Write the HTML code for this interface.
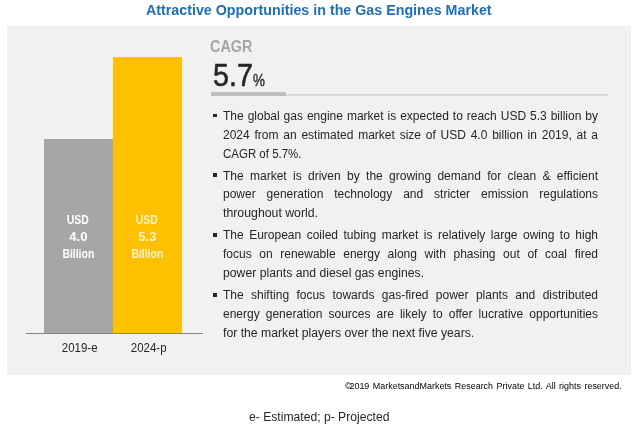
<!DOCTYPE html>
<html>
<head>
<meta charset="utf-8">
<title>Attractive Opportunities in the Gas Engines Market</title>
<style>
  html, body { margin: 0; padding: 0; background: #ffffff; }
  body { width: 639px; height: 430px; position: relative; overflow: hidden;
         font-family: "Liberation Sans", sans-serif; color: #262626; will-change: transform; }
  .abs { position: absolute; white-space: nowrap; transform-origin: 0 0; }
  #title { left: 145.8px; top: 1.2px; font-size: 15px; line-height: 18px; font-weight: bold; color: #1f6fb3; transform: scaleX(0.951); }
  #panel { position: absolute; left: 7px; top: 26.3px; width: 623.6px; height: 348.4px; background: #f1f1f1; }
  #bar1 { position: absolute; left: 44px; top: 139px; width: 69px; height: 194px; background: #a6a6a6; }
  #bar2 { position: absolute; left: 113px; top: 57px; width: 69px; height: 276px; background: #ffc000; }
  #axis { position: absolute; left: 26px; top: 332.9px; width: 177px; height: 1.1px; background: #858585; }
  .blab { position: absolute; width: 69px; text-align: center; font-weight: bold; font-size: 12px; line-height: 17px; color: #ffffff; }
  .blab span { display: inline-block; transform: scaleX(0.87); transform-origin: 50% 50%; }
  #bl1 { left: 44px; top: 212.4px; }
  #bl2 { left: 113px; top: 212.4px; color: #fff2cc; }
  .xlab { position: absolute; width: 69px; text-align: center; font-size: 12px; line-height: 14px; color: #262626; top: 340.7px; }
  .xlab span { display: inline-block; transform: scaleX(0.955); transform-origin: 50% 50%; }
  #cagr { left: 210.4px; top: 36px; font-size: 16.5px; line-height: 20px; font-weight: bold; color: #a6a6a6; transform: scaleX(0.872); }
  #num { left: 212.6px; top: 58.2px; font-size: 30.7px; line-height: 36px; color: #262626; transform: scaleX(0.935); -webkit-text-stroke: 0.55px #262626; }
  #pct { left: 252.7px; top: 70.5px; font-size: 16.8px; line-height: 20px; color: #262626; transform: scaleX(0.8); -webkit-text-stroke: 0.35px #262626; }
  #thick { position: absolute; left: 211px; top: 92.3px; width: 75.4px; height: 3.6px; background: #bfbfbf; }
  #thin { position: absolute; left: 286px; top: 94px; width: 322px; height: 2px; background: #d9d9d9; }
  #bullets { position: absolute; left: 223px; top: 106.8px; width: 375px; font-size: 12px; line-height: 18.9px; color: #262626; }
  #bullets p { margin: 0 0 3px 0; text-align: justify; position: relative; }
  #bullets p i { position: absolute; left: -9.8px; top: 6.8px; width: 3.6px; height: 3.8px; background: #262626; }
  #bullets .l { display: block; text-align: justify; text-align-last: justify; white-space: nowrap; }
  #bullets .e { display: block; text-align: left; white-space: nowrap; transform-origin: 0 50%; }
  #copy { left: 344.6px; top: 381.2px; font-size: 9.08px; line-height: 11px; color: #000000; word-spacing: 1px; transform: scaleX(0.985); }
  #note { left: 248.8px; top: 410.2px; font-size: 12px; line-height: 14px; color: #262626; transform: scaleX(1.012); }
</style>
</head>
<body>
  <div id="title" class="abs">Attractive Opportunities in the Gas Engines Market</div>
  <div id="panel"></div>
  <div id="bar1"></div>
  <div id="bar2"></div>
  <div id="axis"></div>
  <div id="bl1" class="blab"><span style="position:relative;left:-1.2px">USD</span><br><span style="transform:scaleX(1.09)">4.0</span><br><span>Billion</span></div>
  <div id="bl2" class="blab"><span style="position:relative;left:-0.7px">USD</span><br><span style="transform:scaleX(1.09)">5.3</span><br><span>Billion</span></div>
  <div class="xlab" style="left:44.8px"><span>2019-e</span></div>
  <div class="xlab" style="left:113.8px"><span>2024-p</span></div>

  <div id="cagr" class="abs">CAGR</div>
  <div id="num" class="abs">5.7</div>
  <div id="pct" class="abs">%</div>
  <div id="thick"></div>
  <div id="thin"></div>

  <div id="bullets">
    <p><i></i><span class="l">The global gas engine market is expected to reach USD 5.3 billion by</span><span class="l">2024 from an estimated market size of USD 4.0 billion in 2019, at a</span><span class="e" style="transform:scaleX(0.957)">CAGR of 5.7%.</span></p>
    <p><i></i><span class="l">The market is driven by the growing demand for clean &amp; efficient</span><span class="l">power generation technology and stricter emission regulations</span><span class="e" style="transform:scaleX(1.025)">throughout world.</span></p>
    <p><i></i><span class="l">The European coiled tubing market is relatively large owing to high</span><span class="l">focus on renewable energy along with phasing out of coal fired</span><span class="e" style="transform:scaleX(1.018)">power plants and diesel gas engines.</span></p>
    <p><i></i><span class="l">The shifting focus towards gas-fired power plants and distributed</span><span class="l">energy generation sources are likely to offer lucrative opportunities</span><span class="e" style="transform:scaleX(1.018)">for the market players over the next five years.</span></p>
  </div>

  <div id="copy" class="abs"><span style="letter-spacing:-2.2px">©</span>2019 MarketsandMarkets Research Private Ltd. All rights reserved.</div>
  <div id="note" class="abs">e- Estimated; p- Projected</div>
</body>
</html>
